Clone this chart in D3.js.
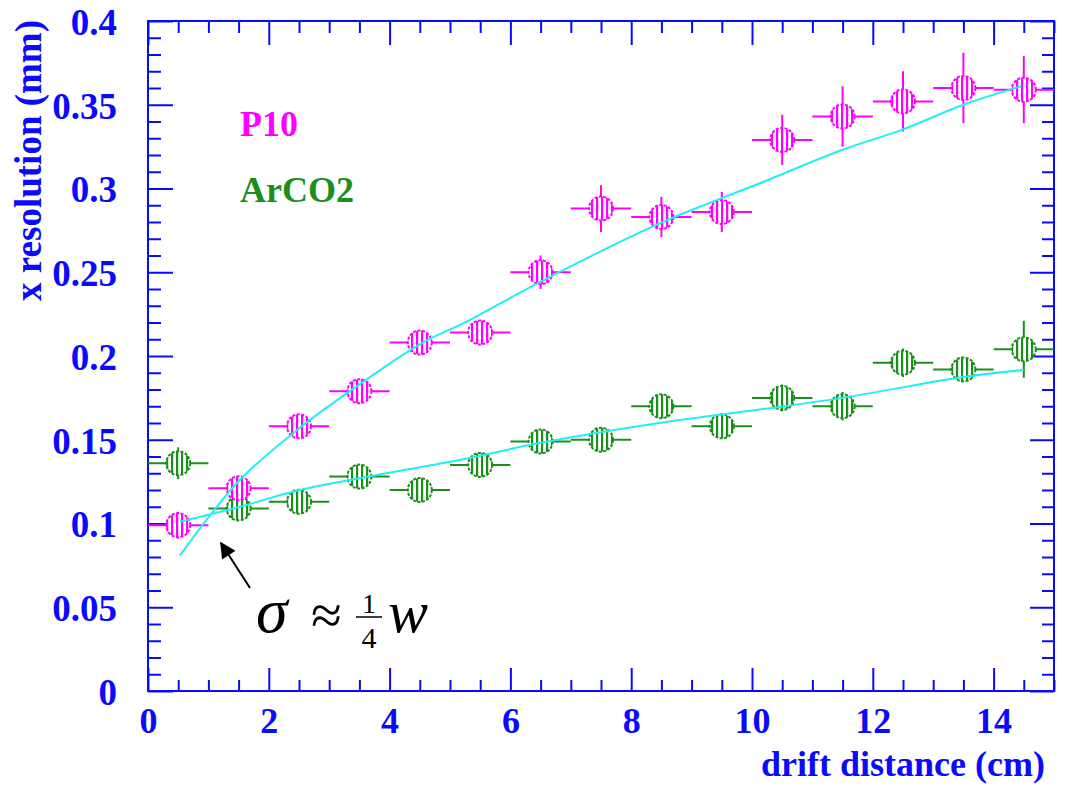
<!DOCTYPE html>
<html><head><meta charset="utf-8">
<script src="https://cdn.jsdelivr.net/npm/d3@7"></script>
<style>body{margin:0;background:#fff}svg{display:block}</style>
</head><body><svg id="c" width="1068" height="787"></svg>
<script>
// ---- data ----
const driftX     = [0.5,1.5,2.5,3.5,4.5,5.5,6.5,7.5,8.5,9.5,10.5,11.5,12.5,13.5,14.5];
const xHalfWidth = 0.5;
const p10Res     = [0.099,0.121,0.158,0.179,0.208,0.214,0.250,0.288,0.283,0.286,0.329,0.343,0.352,0.360,0.359];
const p10Err     = [0.008,0.006,0.006,0.006,0.006,0.006,0.010,0.014,0.012,0.012,0.015,0.018,0.018,0.021,0.020];
const arco2Res   = [0.136,0.109,0.113,0.128,0.120,0.135,0.149,0.150,0.170,0.158,0.175,0.170,0.196,0.192,0.204];
const arco2Err   = [0.0095,0.006,0.006,0.006,0.006,0.006,0.006,0.006,0.006,0.006,0.008,0.0085,0.0085,0.007,0.017];
const p10FitX    = [0.53,1.52,2.51,3.5,4.5,5.3,6.48,8.46,9.34,10.12,11.49,12.48,13.5,14.46];
const p10FitY    = [0.081,0.126,0.157,0.183,0.207,0.221,0.244,0.279,0.292,0.303,0.323,0.335,0.350,0.361];
const arco2FitX  = [0.53,1.52,2.51,3.5,5.3,6.48,8.46,10.12,11.49,13.5,14.5];
const arco2FitY  = [0.101,0.110,0.120,0.127,0.139,0.148,0.160,0.168,0.175,0.1875,0.1916];
const xMajorTicks = [0,2,4,6,8,10,12,14];
const xTickLabels = ["0","2","4","6","8","10","12","14"];
const yMajorTicks = [0,0.05,0.1,0.15,0.2,0.25,0.3,0.35,0.4];
const yTickLabels = ["0","0.05","0.1","0.15","0.2","0.25","0.3","0.35","0.4"];
const seriesNames = ["P10","ArCO2"];

// ---- style ----
const BLUE = "#0a0aff", MAG = "#ff00ff", GRN = "#1a8f1a", CYAN = "#22eef8";
const FONT = "'Liberation Serif','Times New Roman',serif";
const L = 148, R = 1054, T = 21, B = 691;

const svg = d3.select("#c");
const x = d3.scaleLinear().domain([0,15]).range([L,R]);
const y = d3.scaleLinear().domain([0,0.4]).range([B,T]);

const xMinor = d3.range(0,15.001,0.5).filter(v => Math.abs(v/2 - Math.round(v/2)) > 1e-6);
const yMinor = d3.range(0,0.4001,0.01).filter(v => Math.abs(v/0.05 - Math.round(v/0.05)) > 1e-6);

function tickAxis(axisFn, scale, vals, size, tr){
  const g = svg.append("g").attr("transform", tr)
    .call(axisFn(scale).tickValues(vals).tickSize(size).tickSizeOuter(0).tickFormat(""));
  g.select(".domain").remove();
  g.selectAll("line").attr("stroke", BLUE).attr("stroke-width", 2);
  return g;
}
// bottom
tickAxis(d3.axisBottom, x, xMinor, -11, `translate(0,${B})`);
const gx = svg.append("g").attr("transform", `translate(0,${B})`)
  .call(d3.axisBottom(x).tickValues(xMajorTicks).tickSize(-23).tickSizeOuter(0)
  .tickFormat((d,i) => xTickLabels[i]));
gx.select(".domain").remove();
gx.selectAll("line").attr("stroke", BLUE).attr("stroke-width", 2);
gx.selectAll("text").attr("y", 42).attr("dy", null).attr("fill", BLUE)
  .attr("font-family", FONT).attr("font-weight", "bold").attr("font-size", 36);
// top
tickAxis(d3.axisTop, x, xMinor, -12, `translate(0,${T})`);
tickAxis(d3.axisTop, x, xMajorTicks, -24, `translate(0,${T})`);
// left
tickAxis(d3.axisLeft, y, yMinor, -13, `translate(${L},0)`);
const gy = svg.append("g").attr("transform", `translate(${L},0)`)
  .call(d3.axisLeft(y).tickValues(yMajorTicks).tickSize(-25).tickSizeOuter(0)
  .tickFormat((d,i) => yTickLabels[i]));
gy.select(".domain").remove();
gy.selectAll("line").attr("stroke", BLUE).attr("stroke-width", 2);
gy.selectAll("text").attr("x", -31).attr("dy", "0.36em").attr("fill", BLUE)
  .attr("font-family", FONT).attr("font-weight", "bold").attr("font-size", 37);
// right
tickAxis(d3.axisRight, y, yMinor, -12, `translate(${R},0)`);
tickAxis(d3.axisRight, y, yMajorTicks, -24, `translate(${R},0)`);
// frame
svg.append("rect").attr("x", L).attr("y", T).attr("width", R-L).attr("height", B-T)
  .attr("fill", "none").attr("stroke", BLUE).attr("stroke-width", 2);

// titles
svg.append("text").attr("transform", `translate(41,${T-1}) rotate(-90)`)
  .attr("text-anchor", "end").attr("fill", BLUE).attr("font-family", FONT)
  .attr("font-weight", "bold").attr("font-size", 37).text("x resolution (mm)");
svg.append("text").attr("x", 1045).attr("y", 776).attr("text-anchor", "end")
  .attr("fill", BLUE).attr("font-family", FONT).attr("font-weight", "bold")
  .attr("font-size", 36).text("drift distance (cm)");

// hatch patterns
const defs = svg.append("defs");
function hatch(id, col){
  const p = defs.append("pattern").attr("id", id).attr("patternUnits", "userSpaceOnUse")
    .attr("width", 5).attr("height", 5);
  p.append("rect").attr("width", 5).attr("height", 5).attr("fill", "#fff");
  p.append("rect").attr("x", 1).attr("width", 2.2).attr("height", 5).attr("fill", col);
}
hatch("hP", MAG); hatch("hG", GRN);

function drawSeries(vals, errs, col, pat){
  const g = svg.append("g");
  driftX.forEach((xv, i) => {
    const cx = x(xv), cy = y(vals[i]);
    g.append("line").attr("x1", x(xv - xHalfWidth)).attr("x2", x(xv + xHalfWidth))
      .attr("y1", cy).attr("y2", cy).attr("stroke", col).attr("stroke-width", 2);
    g.append("line").attr("x1", cx).attr("x2", cx)
      .attr("y1", y(vals[i] - errs[i])).attr("y2", y(vals[i] + errs[i]))
      .attr("stroke", col).attr("stroke-width", 2);
  });
  driftX.forEach((xv, i) => {
    g.append("circle").attr("cx", x(xv)).attr("cy", y(vals[i])).attr("r", 12)
      .attr("fill", `url(#${pat})`).attr("stroke", col).attr("stroke-width", 2)
      .attr("stroke-dasharray", "3 1.5");
  });
}
drawSeries(arco2Res, arco2Err, GRN, "hG");
drawSeries(p10Res, p10Err, MAG, "hP");

// fit curves
const line = d3.line().x(d => x(d[0])).y(d => y(d[1])).curve(d3.curveCatmullRom.alpha(0.5));
svg.append("path").attr("d", line(p10FitX.map((v,i) => [v, p10FitY[i]])))
  .attr("fill", "none").attr("stroke", CYAN).attr("stroke-width", 2);
svg.append("path").attr("d", line(arco2FitX.map((v,i) => [v, arco2FitY[i]])))
  .attr("fill", "none").attr("stroke", CYAN).attr("stroke-width", 2);

// legend texts
svg.append("text").attr("x", 240).attr("y", 136).attr("fill", MAG).attr("font-family", FONT)
  .attr("font-weight", "bold").attr("font-size", 36).text(seriesNames[0]);
svg.append("text").attr("x", 240).attr("y", 202).attr("fill", GRN).attr("font-family", FONT)
  .attr("font-weight", "bold").attr("font-size", 36).text(seriesNames[1]);

// annotation
defs.append("marker").attr("id", "ah").attr("viewBox", "0 0 10 10").attr("refX", 9).attr("refY", 5)
  .attr("markerWidth", 9).attr("markerHeight", 8).attr("orient", "auto")
  .attr("markerUnits", "strokeWidth")
  .append("path").attr("d", "M0,0 L10,5 L0,10 Z").attr("fill", "#000");
svg.append("line").attr("x1", 250).attr("y1", 588).attr("x2", 221).attr("y2", 543)
  .attr("stroke", "#000").attr("stroke-width", 2).attr("marker-end", "url(#ah)");
const ann = svg.append("g").attr("font-family", FONT).attr("fill", "#000");
ann.append("text").attr("x", 256).attr("y", 632).attr("font-size", 64).attr("font-style", "italic").text("σ");
ann.append("text").attr("x", 311).attr("y", 634).attr("font-size", 56).text("≈");
ann.append("text").attr("x", 369).attr("y", 613).attr("font-size", 28).attr("text-anchor", "middle").text("1");
ann.append("text").attr("x", 369).attr("y", 648).attr("font-size", 30).attr("text-anchor", "middle").text("4");
ann.append("line").attr("x1", 356).attr("x2", 382).attr("y1", 617).attr("y2", 617).attr("stroke", "#000").attr("stroke-width", 1.5);
ann.append("text").attr("x", 388).attr("y", 632).attr("font-size", 60).attr("font-style", "italic").text("w");
</script></body></html>
